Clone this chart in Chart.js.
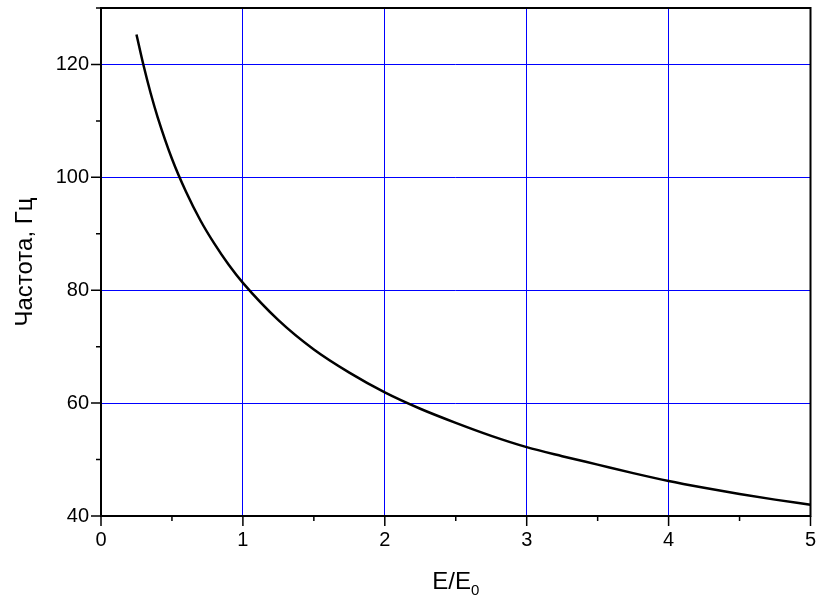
<!DOCTYPE html>
<html><head><meta charset="utf-8">
<script src="https://cdn.jsdelivr.net/npm/chart.js@4"></script>
<style>html,body{margin:0;padding:0;background:#fff}#wrap{width:819px;height:599px}</style>
</head><body><div id="wrap"><canvas id="c" width="819" height="599"></canvas></div>
<script>
const eRatio = [0.25,0.3,0.35,0.4,0.5,0.6,0.7,0.8,0.9,1.0,1.25,1.5,1.75,2.0,2.25,2.5,2.75,3.0,3.25,3.5,3.75,4.0,4.25,4.5,4.75,5.0];
const freq   = [125.3,119.8,114.9,110.6,103.3,97.4,92.4,88.2,84.5,81.3,74.7,69.5,65.4,61.9,59.0,56.5,54.2,52.2,50.6,49.1,47.6,46.2,45.0,43.9,42.9,42.0];
const xTickValues = [0,1,2,3,4,5];
const yTickValues = [40,60,80,100,120];
const xTitle = 'E/E';
const xTitleSub = '0';
const yTitle = 'Частота, Гц';

const FONT = '"Liberation Sans", Arial, sans-serif';
const BLUE = '#0000ff';

const framePlugin = {
  id: 'frame',
  afterDraw(chart) {
    const {ctx, chartArea: a, scales: {x, y}} = chart;
    ctx.save();
    ctx.strokeStyle = '#000';
    ctx.lineWidth = 2;
    ctx.strokeRect(a.left, a.top, a.right - a.left, a.bottom - a.top);
    ctx.lineWidth = 1.5;
    ctx.beginPath();
    xTickValues.forEach((v, i) => {
      const px = x.getPixelForValue(v);
      ctx.moveTo(px, a.bottom); ctx.lineTo(px, a.bottom + 10);
      if (i < xTickValues.length - 1) {
        const m = x.getPixelForValue((v + xTickValues[i + 1]) / 2);
        ctx.moveTo(m, a.bottom); ctx.lineTo(m, a.bottom + 5);
      }
    });
    yTickValues.forEach((v, i) => {
      const py = y.getPixelForValue(v);
      ctx.moveTo(a.left, py); ctx.lineTo(a.left - 10, py);
      const nxt = i < yTickValues.length - 1 ? yTickValues[i + 1] : v + (v - yTickValues[i - 1]);
      const mv = (v + nxt) / 2;
      if (mv <= y.max) {
        const m = y.getPixelForValue(mv);
        ctx.moveTo(a.left, m); ctx.lineTo(a.left - 5, m);
      }
    });
    ctx.stroke();
    // axis titles
    ctx.fillStyle = '#000';
    ctx.font = '24px ' + FONT;
    ctx.textBaseline = 'alphabetic';
    const w1 = ctx.measureText(xTitle).width;
    ctx.font = '15px ' + FONT;
    const w2 = ctx.measureText(xTitleSub).width;
    const cx = (a.left + a.right) / 2;
    let sx = cx - (w1 + w2) / 2;
    ctx.font = '24px ' + FONT;
    ctx.textAlign = 'left';
    ctx.fillText(xTitle, sx, 589);
    ctx.font = '15px ' + FONT;
    ctx.fillText(xTitleSub, sx + w1, 595);
    ctx.translate(25, (a.top + a.bottom) / 2);
    ctx.rotate(-Math.PI / 2);
    ctx.font = '24px ' + FONT;
    ctx.textAlign = 'center';
    ctx.textBaseline = 'middle';
    ctx.fillText(yTitle, 0, 0);
    ctx.restore();
  }
};

const noPad = s => { s.paddingTop = 0; s.paddingBottom = 0; s.paddingLeft = 0; s.paddingRight = 0; };

new Chart(document.getElementById('c'), {
  type: 'line',
  data: {
    datasets: [{
      data: eRatio.map((e, i) => ({x: e, y: freq[i]})),
      borderColor: '#000',
      borderWidth: 2.5,
      pointRadius: 0,
      fill: false,
      cubicInterpolationMode: 'monotone'
    }]
  },
  options: {
    responsive: false,
    devicePixelRatio: 1,
    animation: false,
    layout: {padding: {top: 8, right: 8.5, left: 0, bottom: 0}},
    plugins: {legend: {display: false}, tooltip: {enabled: false}},
    scales: {
      x: {
        type: 'linear', min: 0, max: 5,
        afterBuildTicks: s => { s.ticks = xTickValues.map(v => ({value: v})); },
        afterFit: s => { s.height = 83; noPad(s); },
        border: {display: false},
        grid: {
          drawTicks: false, lineWidth: 1,
          color: c => (c.tick && c.tick.value > 0 && c.tick.value < 5) ? BLUE : 'rgba(0,0,0,0)'
        },
        ticks: {padding: 12, color: '#000', font: {family: FONT, size: 20}, maxRotation: 0}
      },
      y: {
        type: 'linear', min: 40, max: 130,
        afterBuildTicks: s => { s.ticks = yTickValues.map(v => ({value: v})); },
        afterFit: s => { s.width = 101; noPad(s); },
        border: {display: false},
        grid: {
          drawTicks: false, lineWidth: 1,
          color: c => (c.tick && c.tick.value > 40) ? BLUE : 'rgba(0,0,0,0)'
        },
        ticks: {padding: 12, color: '#000', font: {family: FONT, size: 20}}
      }
    }
  },
  plugins: [framePlugin]
});
</script></body></html>
